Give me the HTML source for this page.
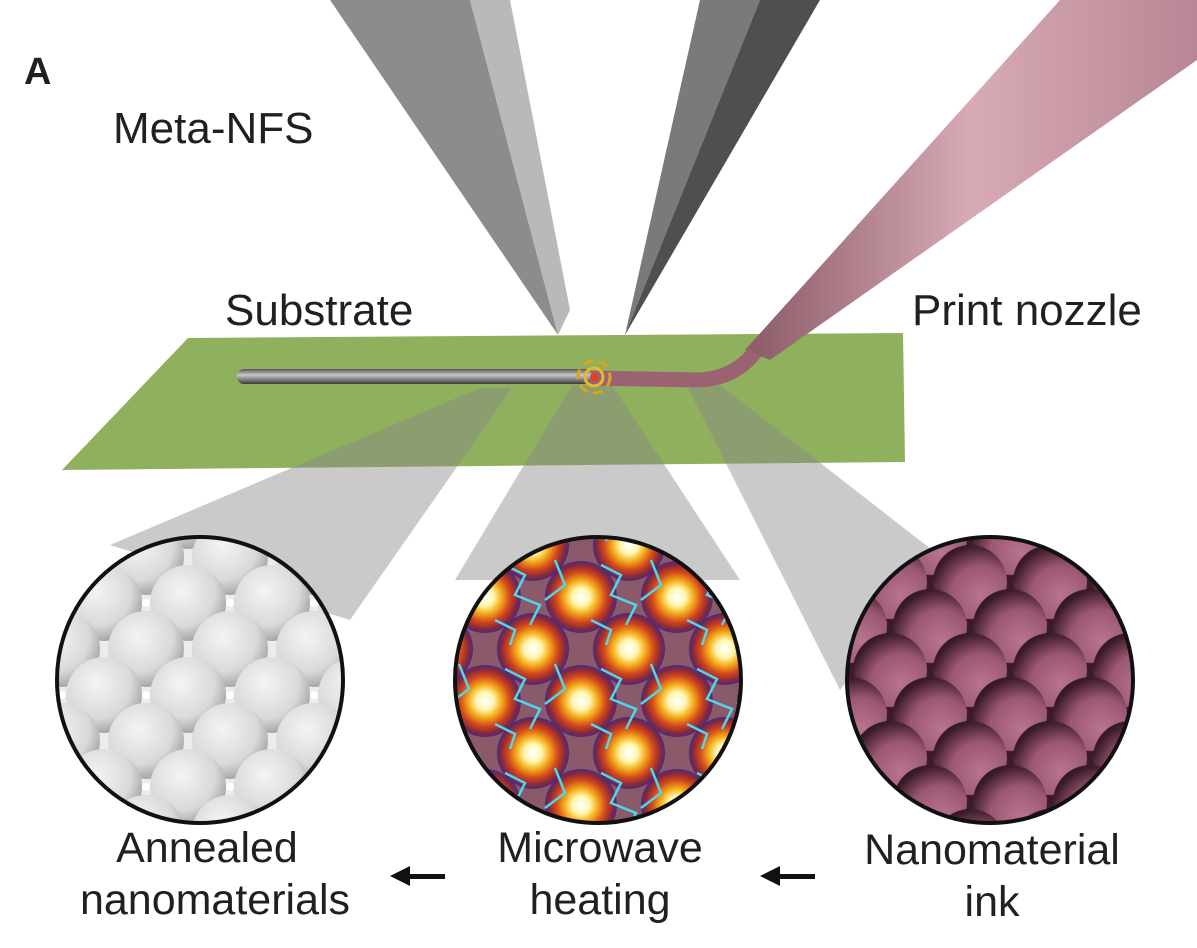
<!DOCTYPE html>
<html><head><meta charset="utf-8"><style>
html,body{margin:0;padding:0;background:#fff;}
svg{display:block;}
text{font-family:"Liberation Sans",sans-serif;fill:#231f20;}
</style></head><body>
<svg width="1197" height="948" viewBox="0 0 1197 948" xmlns="http://www.w3.org/2000/svg">
<defs>
<radialGradient id="wsph" cx="0.4" cy="0.35" r="0.65">
<stop offset="0" stop-color="#f4f4f4"/><stop offset="0.7" stop-color="#d9d9d9"/><stop offset="1" stop-color="#a8a8a8"/></radialGradient>
<radialGradient id="psph" cx="0.65" cy="0.7" r="0.7">
<stop offset="0" stop-color="#b97590"/><stop offset="0.6" stop-color="#9a5673"/><stop offset="1" stop-color="#3a1a28"/></radialGradient>
<radialGradient id="hot" cx="0.5" cy="0.5" r="0.5">
<stop offset="0" stop-color="#ffffff"/><stop offset="0.25" stop-color="#fff6b0"/><stop offset="0.45" stop-color="#f5b21e"/><stop offset="0.7" stop-color="#d2461a"/><stop offset="0.88" stop-color="#8b2a3a"/><stop offset="1" stop-color="#4a2a7a"/></radialGradient>
<pattern id="wpat" width="84" height="92" patternUnits="userSpaceOnUse" x="20" y="5">
<rect width="84" height="92" fill="#ececec"/>
<circle cx="42" cy="0" r="38" fill="url(#wsph)"/>
<circle cx="0" cy="46" r="38" fill="url(#wsph)"/>
<circle cx="84" cy="46" r="38" fill="url(#wsph)"/>
<circle cx="42" cy="92" r="38" fill="url(#wsph)"/>
<circle cx="42" cy="46" r="4" fill="#fff"/>
</pattern>
<pattern id="ppat" width="80" height="88" patternUnits="userSpaceOnUse" x="10" y="10">
<rect width="80" height="88" fill="#3b1c2a"/>
<circle cx="40" cy="0" r="37" fill="url(#psph)"/>
<circle cx="0" cy="44" r="37" fill="url(#psph)"/>
<circle cx="80" cy="44" r="37" fill="url(#psph)"/>
<circle cx="40" cy="88" r="37" fill="url(#psph)"/>
</pattern>
<pattern id="hpat" width="96" height="104" patternUnits="userSpaceOnUse" x="5" y="25">
<rect width="96" height="104" fill="#8a5a6a"/>
<circle cx="48" cy="0" r="36" fill="url(#hot)"/>
<circle cx="0" cy="52" r="36" fill="url(#hot)"/>
<circle cx="96" cy="52" r="36" fill="url(#hot)"/>
<circle cx="48" cy="104" r="36" fill="url(#hot)"/>
<path d="M20 20 L40 30 L30 50 L55 60 L45 80 M70 15 L80 40 L60 55 M10 75 L30 85 L25 100" stroke="#4fd7ee" stroke-width="2.5" fill="none"/>
</pattern>
<clipPath id="c1"><circle cx="200" cy="680" r="143"/></clipPath>
<clipPath id="c2"><circle cx="598" cy="680" r="143"/></clipPath>
<clipPath id="c3"><circle cx="990" cy="680" r="143"/></clipPath>
<linearGradient id="tube" x1="0" y1="0" x2="0" y2="1"><stop offset="0" stop-color="#555"/><stop offset="0.4" stop-color="#c8c8c8"/><stop offset="1" stop-color="#3a3a3a"/></linearGradient>
<linearGradient id="noz" x1="0" y1="0" x2="1" y2="0"><stop offset="0" stop-color="#8a5a66"/><stop offset="0.5" stop-color="#d7aab5"/><stop offset="1" stop-color="#b88694"/></linearGradient>
</defs>

<polygon points="330,0 470,0 558,335" fill="#8c8c8c"/>
<polygon points="470,0 510,0 570,310 558,335" fill="#b9b9b9"/>
<polygon points="700,0 760,0 625,335" fill="#7a7a7a"/>
<polygon points="760,0 820,0 625,335" fill="#4f4f4f"/>

<polygon points="188,338 903,333 905,462 62,470" fill="#8fb05c"/>
<g fill="#8a8a8a" fill-opacity="0.45">
<polygon points="480,388 512,388 350,620 110,545"/>
<polygon points="572,385 612,385 740,580 455,580"/>
<polygon points="688,388 720,385 945,560 840,690"/>
</g>
<polygon points="1060,0 1197,0 1197,60 770,360 745,350" fill="url(#noz)"/>
<path d="M590,378 L700,380 Q735,378 755,352" stroke="#9b6372" stroke-width="15" fill="none"/>
<rect x="237" y="369" width="355" height="15" rx="7" fill="url(#tube)"/>
<circle cx="594" cy="377" r="16" fill="none" stroke="#d9a520" stroke-width="3" stroke-dasharray="10 6"/>
<circle cx="594" cy="377" r="9" fill="none" stroke="#e8b82a" stroke-width="3"/>
<circle cx="594" cy="377" r="4" fill="#e04020"/>

<g clip-path="url(#c1)"><rect x="50" y="530" width="300" height="300" fill="url(#wpat)"/></g>
<circle cx="200" cy="680" r="143" fill="none" stroke="#111" stroke-width="4"/>
<g clip-path="url(#c2)"><rect x="450" y="530" width="300" height="300" fill="url(#hpat)"/></g>
<circle cx="598" cy="680" r="143" fill="none" stroke="#111" stroke-width="4"/>
<g clip-path="url(#c3)"><rect x="840" y="530" width="300" height="300" fill="url(#ppat)"/></g>
<circle cx="990" cy="680" r="143" fill="none" stroke="#111" stroke-width="4"/>

<text x="24" y="84" font-size="38" font-weight="bold">A</text>
<text x="113" y="143" font-size="44">Meta-NFS</text>
<text x="225" y="325" font-size="44">Substrate</text>
<text x="912" y="325" font-size="44">Print nozzle</text>
<g font-size="43" text-anchor="middle">
<text x="207" y="862">Annealed</text>
<text x="215" y="914">nanomaterials</text>
<text x="600" y="862">Microwave</text>
<text x="600" y="914">heating</text>
<text x="992" y="864">Nanomaterial</text>
<text x="992" y="916">ink</text>
</g>
<g fill="#111">
<rect x="405" y="874" width="40" height="5"/><polygon points="390,876 410,866 410,886"/>
<rect x="775" y="874" width="40" height="5"/><polygon points="760,876 780,866 780,886"/>
</g>
</svg>
</body></html>
